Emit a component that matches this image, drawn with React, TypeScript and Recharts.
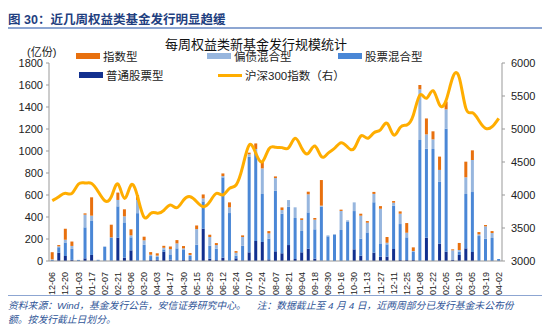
import React from "react";
import { ComposedChart, Bar, Line, XAxis, YAxis } from "recharts";

// 每周发行截止日
const dates = [
  "12-06", "12-13", "12-20", "12-27", "01-03", "01-10", "01-17", "01-23", "02-07", "02-14",
  "02-21", "02-28", "03-06", "03-13", "03-20", "03-27", "04-03", "04-10", "04-17", "04-24",
  "04-30", "05-08", "05-15", "05-22", "05-29", "06-05", "06-12", "06-19", "06-24", "07-03",
  "07-10", "07-17", "07-24", "07-31", "08-07", "08-14", "08-21", "08-28", "09-04", "09-11",
  "09-18", "09-25", "09-30", "10-09", "10-16", "10-23", "10-30", "11-06", "11-13", "11-20",
  "11-27", "12-04", "12-11", "12-18", "12-25", "12-31", "01-08", "01-15", "01-22", "01-29",
  "02-05", "02-10", "02-19", "02-26", "03-05", "03-12", "03-19", "03-26", "04-02",
];

// 亿份
const putong = [
  0, 75, 45, 10, 0, 24, 55, 0, 3, 3, 212, 30, 97, 5, 3, 9, 10, 85, 12, 6,
  9, 10, 6, 294, 21, 9, 30, 0, 24, 6, 79, 182, 173, 15, 88, 70, 145, 18, 79, 112,
  21, 3, 0, 0, 0, 0, 106, 48, 5, 76, 39, 39, 109, 9, 9, 9, 0, 212, 0, 158,
  85, 9, 55, 115, 82, 0, 0, 0, 0,
];
const guPiaoHunHe = [
  10, 50, 124, 100, 10, 282, 309, 8, 125, 210, 285, 321, 118, 430, 145, 36, 27, 20, 48, 109,
  91, 36, 142, 248, 118, 103, 730, 436, 24, 133, 870, 812, 436, 188, 551, 360, 348, 373, 194, 330,
  267, 491, 224, 239, 282, 355, 348, 155, 255, 458, 121, 112, 394, 327, 206, 73, 1100, 809, 1018, 561,
  1118, 0, 30, 494, 545, 227, 203, 209, 18,
];
const pianZhaiHunHe = [
  5, 8, 24, 27, 0, 115, 48, 4, 5, 2, 58, 55, 18, 120, 40, 12, 12, 15, 48, 45,
  15, 9, 142, 27, 79, 33, 12, 52, 27, 79, 21, 24, 233, 48, 115, 33, 61, 97, 100, 164,
  88, 9, 9, 6, 173, 15, 79, 209, 88, 76, 315, 15, 27, 94, 42, 9, 461, 130, 88, 109,
  176, 88, 15, 152, 291, 15, 112, 45, 0,
];
const zhiShu = [
  65, 12, 100, 40, 0, 12, 167, 0, 0, 115, 67, 64, 55, 45, 33, 24, 21, 18, 24, 30,
  21, 18, 33, 36, 21, 18, 24, 45, 15, 15, 15, 51, 61, 21, 15, 24, 0, 0, 15, 24,
  15, 233, 0, 0, 12, 0, 0, 18, 15, 18, 24, 52, 15, 21, 88, 33, 39, 145, 73, 121,
  70, 9, 64, 142, 88, 21, 12, 18, 0,
];
// 沪深300指数（右）
const hs300 = [
  3914, 3974, 4025, 4025, 4167, 4182, 4175, 4050, 3914, 3974, 4167, 3949, 4152, 3974, 3662, 3722, 3725, 3768, 3848, 3808,
  3924, 3974, 3899, 3823, 3899, 4025, 4000, 4101, 4152, 4429, 4758, 4632, 4505, 4700, 4723, 4717, 4717, 4859, 4708, 4632,
  4742, 4581, 4632, 4708, 4793, 4723, 4708, 4894, 4859, 4944, 4990, 5086, 4909, 5025, 5061, 5212, 5515, 5465, 5580, 5364,
  5439, 5782, 5775, 5313, 5247, 5126, 5010, 5035, 5162,
];

const leftTicks = [0, 200, 400, 600, 800, 1000, 1200, 1400, 1600, 1800];
const rightTicks = [3000, 3500, 4000, 4500, 5000, 5500, 6000];

const C_ORANGE = "#E8700E";
const C_LIGHT = "#97B6DE";
const C_BLUE = "#4A87D6";
const C_NAVY = "#12308F";
const C_LINE = "#FFAD00";

const data = dates.map((d, i) => ({
  date: d,
  putong: putong[i],
  gphh: guPiaoHunHe[i],
  pzhh: pianZhaiHunHe[i],
  zs: zhiShu[i],
  hs: hs300[i],
}));

const FONT = "'Liberation Sans', Arial, 'Noto Sans CJK SC', sans-serif";

const XTick = (props: any) => {
  const { x, y, payload } = props;
  const ty = y + 3;
  return (
    <text
      x={x}
      y={ty}
      transform={`rotate(-90, ${x}, ${ty})`}
      textAnchor="end"
      dominantBaseline="central"
      fontSize={9}
      fill="#222"
      fontFamily={FONT}
    >
      {payload.value}
    </text>
  );
};

const LegendItem = ({ x, y, color, label, line }: any) => (
  <div style={{ position: "absolute", left: x, top: y, display: "flex", alignItems: "center", height: 14 }}>
    <div style={{ width: 24, height: line ? 3 : 6, background: color, marginRight: 3 }} />
    <span style={{ fontSize: 11.5, color: "#222", whiteSpace: "nowrap" }}>{label}</span>
  </div>
);

export default function App() {
  return (
    <div
      style={{
        position: "absolute",
        left: 0,
        top: 0,
        width: 550,
        height: 334,
        background: "#fff",
        fontFamily: FONT,
        overflow: "hidden",
      }}
    >
      <div
        style={{
          position: "absolute",
          left: 8,
          top: 9,
          fontSize: 12.5,
          fontWeight: 700,
          color: "#1F3F80",
          whiteSpace: "nowrap",
        }}
      >
        图 30：近几周权益类基金发行明显趋缓
      </div>
      <div style={{ position: "absolute", left: 8, top: 27, width: 534, height: 1.5, background: "#8DA6D2" }} />

      <ComposedChart
        width={550}
        height={334}
        data={data}
        margin={{ top: 63, right: 0, bottom: 0, left: 0 }}
        barCategoryGap="26%"
        style={{ position: "absolute", left: 0, top: 0 }}
      >
        <XAxis
          dataKey="date"
          interval={1}
          height={73}
          tick={<XTick />}
          tickLine={false}
          axisLine={{ stroke: "#999" }}
        />
        <YAxis
          yAxisId="left"
          width={49}
          domain={[0, 1800]}
          ticks={leftTicks}
          tick={{ fontSize: 11, fill: "#222", fontFamily: FONT }}
          tickSize={3}
          tickMargin={3}
          axisLine={{ stroke: "#999" }}
          tickLine={{ stroke: "#999" }}
        />
        <YAxis
          yAxisId="right"
          orientation="right"
          width={48}
          domain={[3000, 6000]}
          ticks={rightTicks}
          tick={{ fontSize: 11, fill: "#222", fontFamily: FONT }}
          tickSize={3}
          tickMargin={6}
          axisLine={{ stroke: "#999" }}
          tickLine={{ stroke: "#999" }}
        />
        <Bar yAxisId="left" dataKey="putong" stackId="a" fill={C_NAVY} isAnimationActive={false} />
        <Bar yAxisId="left" dataKey="gphh" stackId="a" fill={C_BLUE} isAnimationActive={false} />
        <Bar yAxisId="left" dataKey="pzhh" stackId="a" fill={C_LIGHT} isAnimationActive={false} />
        <Bar yAxisId="left" dataKey="zs" stackId="a" fill={C_ORANGE} isAnimationActive={false} />
        <Line
          yAxisId="right"
          dataKey="hs"
          type="natural"
          stroke={C_LINE}
          strokeWidth={3}
          dot={false}
          isAnimationActive={false}
        />
      </ComposedChart>

      <div
        style={{
          position: "absolute",
          left: 0,
          width: 512,
          top: 34,
          textAlign: "center",
          fontSize: 13,
          color: "#111",
        }}
      >
        每周权益类新基金发行规模统计
      </div>
      <div style={{ position: "absolute", left: 27, top: 43, fontSize: 11, color: "#222" }}>(亿份)</div>

      <LegendItem x={76} y={49} color={C_ORANGE} label="指数型" />
      <LegendItem x={207} y={49} color={C_LIGHT} label="偏债混合型" />
      <LegendItem x={338} y={49} color={C_BLUE} label="股票混合型" />
      <LegendItem x={79} y={68} color={C_NAVY} label="普通股票型" />
      <LegendItem x={218} y={68} color={C_LINE} label="沪深300指数（右）" line />

      <div style={{ position: "absolute", left: 8, top: 295, width: 534, height: 1, background: "#8DA6D2" }} />
      <div
        style={{
          position: "absolute",
          left: 8,
          top: 299,
          fontSize: 9.8,
          fontStyle: "italic",
          color: "#2F5597",
          whiteSpace: "nowrap",
          lineHeight: "14px",
        }}
      >
        <div>资料来源：Wind，基金发行公告，安信证券研究中心。&nbsp;&nbsp;&nbsp;&nbsp;注：数据截止至 4 月 4 日，近两周部分已发行基金未公布份</div>
        <div>额。按发行截止日划分。</div>
      </div>
    </div>
  );
}
